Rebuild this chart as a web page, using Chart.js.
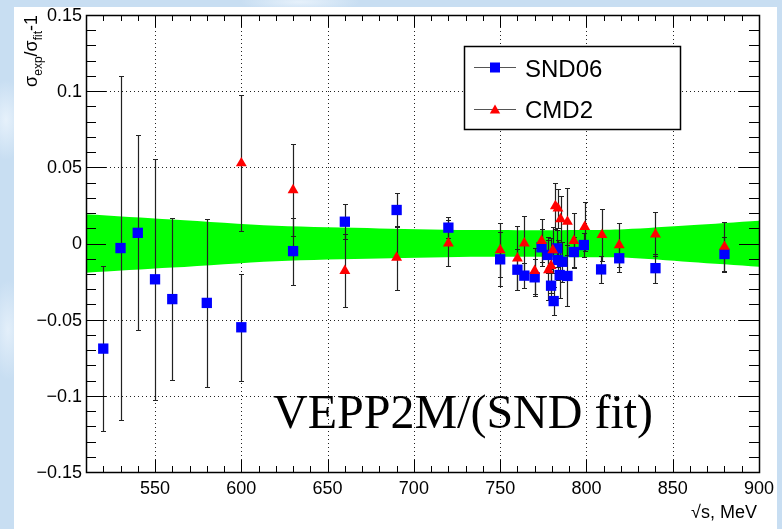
<!DOCTYPE html>
<html>
<head>
<meta charset="utf-8">
<script src="https://cdn.jsdelivr.net/npm/chart.js"></script>
<style>
  html, body { margin: 0; padding: 0; }
  body {
    width: 782px; height: 529px; overflow: hidden; position: relative;
    background: #c8def2;
    background-image:
      radial-gradient(ellipse 20px 40px at 6px 120px, #e6f1fb 0%, rgba(230,241,251,0) 100%),
      radial-gradient(ellipse 18px 50px at 8px 330px, #e3effa 0%, rgba(227,239,250,0) 100%),
      radial-gradient(ellipse 60px 10px at 300px 2px, #e6f1fb 0%, rgba(230,241,251,0) 100%);
  }
  #paper { position: absolute; left: 14px; top: 7px; width: 763px; height: 522px; background: #fff; }
  #chart { position: absolute; left: 0; top: 0; }
</style>
</head>
<body>
<div id="paper"></div>
<canvas id="chart" width="782" height="529"></canvas>
<script>
// SND06 points: energy (MeV), sigma_exp/sigma_fit - 1, error
var sndEnergy = [520, 530, 540, 550, 560, 580, 600, 630, 660, 690, 720, 750, 760, 764, 770, 774, 777.5, 779.5, 781, 783, 783.5, 784.5, 786, 789, 792.7, 798.5, 808.5, 819, 840, 880];
var sndRatio = [-0.069, -0.003, 0.007, -0.0235, -0.0365, -0.039, -0.055, -0.005, 0.0143, 0.022, 0.0104, -0.0104, -0.0172, -0.0211, -0.0222, -0.0025, -0.0075, -0.0277, -0.0378, -0.0032, -0.0108, -0.0207, -0.012, -0.0213, -0.0056, -0.001, -0.017, -0.0097, -0.0162, -0.0069];
var sndError = [0.054, 0.113, 0.064, 0.079, 0.053, 0.055, 0.035, 0.022, 0.0114, 0.0114, 0.007, 0.0177, 0.0136, 0.008, 0.012, 0.012, 0.012, 0.011, 0.009, 0.012, 0.013, 0.015, 0.013, 0.020, 0.0098, 0.0077, 0.0087, 0.0088, 0.0095, 0.0114];

// CMD2 points
var cmdEnergy = [600, 630, 660, 690, 720, 750, 760, 764, 770, 774, 778, 779.5, 780.5, 782, 783.5, 785, 789, 792.7, 799, 809, 819, 840, 880];
var cmdRatio = [0.0527, 0.0351, -0.018, -0.0093, 0.0001, -0.0043, -0.0097, 0.0001, -0.0179, 0.0018, -0.0174, -0.0146, -0.0043, 0.0246, 0.023, 0.016, 0.0143, 0.0018, 0.011, 0.0056, -0.001, 0.006, -0.0021];
var cmdError = [0.0445, 0.030, 0.024, 0.021, 0.015, 0.0176, 0.021, 0.018, 0.015, 0.014, 0.020, 0.018, 0.015, 0.015, 0.013, 0.015, 0.022, 0.018, 0.016, 0.0168, 0.0143, 0.0145, 0.0164];

// fit uncertainty band (green)
var bandEnergy = [510, 560, 620, 680, 740, 800, 822, 860, 900];
var bandUpper = [0.0192, 0.0157, 0.0116, 0.0099, 0.0088, 0.0089, 0.0094, 0.0120, 0.0150];
var bandLower = [-0.0192, -0.0158, -0.0116, -0.0098, -0.0087, -0.0090, -0.0092, -0.0121, -0.0152];

// axis ticks
var xTicks = [550, 600, 650, 700, 750, 800, 850, 900];
var xTickLabels = ['550', '600', '650', '700', '750', '800', '850', '900'];
var yTicks = [-0.15, -0.1, -0.05, 0, 0.05, 0.1, 0.15];
var yTickLabels = ['\u22120.15', '\u22120.1', '\u22120.05', '0', '0.05', '0.1', '0.15'];

function pts(xs, ys) {
  return xs.map(function(x, i) { return { x: x, y: ys[i] }; });
}

var sansFont = '"Liberation Sans", Arial, Helvetica, sans-serif';

function drawErrors(ctx, xs, ys, es, sx, sy) {
  ctx.beginPath();
  for (var i = 0; i < xs.length; i++) {
    var px = Math.round(sx.getPixelForValue(xs[i])) + 0.5;
    var top = Math.round(sy.getPixelForValue(ys[i] + es[i])) + 0.5;
    var bot = Math.round(sy.getPixelForValue(ys[i] - es[i])) + 0.5;
    ctx.moveTo(px, top); ctx.lineTo(px, bot);
    ctx.moveTo(px - 2.5, top); ctx.lineTo(px + 2.5, top);
    ctx.moveTo(px - 2.5, bot); ctx.lineTo(px + 2.5, bot);
  }
  ctx.stroke();
}

var rootStyle = {
  id: 'rootStyle',
  beforeDatasetsDraw: function(chart) {
    // dotted grid
    var ctx = chart.ctx, a = chart.chartArea, sx = chart.scales.x, sy = chart.scales.y;
    ctx.save();
    ctx.strokeStyle = '#222';
    ctx.lineWidth = 1;
    ctx.setLineDash([1, 3]);
    ctx.beginPath();
    xTicks.forEach(function(v) {
      var px = Math.round(sx.getPixelForValue(v)) + 0.5;
      ctx.moveTo(px, a.top); ctx.lineTo(px, a.bottom);
    });
    yTicks.forEach(function(v) {
      var py = Math.round(sy.getPixelForValue(v)) + 0.5;
      ctx.moveTo(a.left, py); ctx.lineTo(a.right, py);
    });
    ctx.stroke();
    ctx.restore();
  },
  beforeDatasetDraw: function(chart, args) {
    if (chart.data.datasets[args.index].label !== 'SND06') return;
    var ctx = chart.ctx, sx = chart.scales.x, sy = chart.scales.y;
    ctx.save();
    ctx.strokeStyle = '#222';
    ctx.lineWidth = 1.2;
    drawErrors(ctx, sndEnergy, sndRatio, sndError, sx, sy);
    drawErrors(ctx, cmdEnergy, cmdRatio, cmdError, sx, sy);
    ctx.restore();
  },
  afterDatasetsDraw: function(chart) {
    var ctx = chart.ctx, a = chart.chartArea, sx = chart.scales.x, sy = chart.scales.y;
    ctx.save();
    ctx.strokeStyle = '#000';
    ctx.lineWidth = 1;
    ctx.beginPath();
    // y ticks, inward on both sides
    for (var v = -15; v <= 15; v++) {
      var py = Math.round(sy.getPixelForValue(v / 100)) + 0.5;
      var len = (v % 5 === 0) ? 20 : 10;
      ctx.moveTo(a.left, py); ctx.lineTo(a.left + len, py);
      ctx.moveTo(a.right, py); ctx.lineTo(a.right - len, py);
    }
    // x ticks, inward on bottom and top
    for (var e = 510; e <= 900; e += 10) {
      var px = Math.round(sx.getPixelForValue(e)) + 0.5;
      var l2 = (e % 50 === 0) ? 12 : 6;
      ctx.moveTo(px, a.bottom); ctx.lineTo(px, a.bottom - l2);
      ctx.moveTo(px, a.top); ctx.lineTo(px, a.top + l2);
    }
    ctx.stroke();
    ctx.lineWidth = 1.5;
    ctx.strokeRect(Math.round(a.left) + 0.5, Math.round(a.top) + 0.5, Math.round(a.right - a.left), Math.round(a.bottom - a.top));
    ctx.restore();
  },
  afterDraw: function(chart) {
    var ctx = chart.ctx, a = chart.chartArea, sx = chart.scales.x, sy = chart.scales.y;
    ctx.save();
    ctx.fillStyle = '#000';
    ctx.font = '18px ' + sansFont;
    // y tick labels
    ctx.textAlign = 'right';
    ctx.textBaseline = 'middle';
    yTicks.forEach(function(v, i) {
      ctx.fillText(yTickLabels[i], a.left - 4, sy.getPixelForValue(v) + 1);
    });
    // x tick labels
    ctx.textAlign = 'center';
    ctx.textBaseline = 'top';
    xTicks.forEach(function(v, i) {
      ctx.fillText(xTickLabels[i], sx.getPixelForValue(v), a.bottom + 8);
    });
    // x title
    ctx.textAlign = 'right';
    ctx.textBaseline = 'alphabetic';
    ctx.fillText('\u221As, MeV', 757, 518);

    // y title, rotated, ends at the top of the axis
    var parts = [['\u03C3', 18, 0], ['exp', 12, 5], ['/', 18, 0], ['\u03C3', 18, 0], ['fit', 12, 5], ['-1', 18, 0]];
    var total = 0;
    parts.forEach(function(p) { ctx.font = p[1] + 'px ' + sansFont; total += ctx.measureText(p[0]).width; });
    ctx.translate(37, 15);
    ctx.rotate(-Math.PI / 2);
    ctx.textAlign = 'left';
    var cx = -total;
    parts.forEach(function(p) {
      ctx.font = p[1] + 'px ' + sansFont;
      ctx.fillText(p[0], cx, p[2]);
      cx += ctx.measureText(p[0]).width;
    });
    ctx.setTransform(1, 0, 0, 1, 0, 0);

    // legend box
    ctx.fillStyle = '#fff';
    ctx.fillRect(464, 46, 217, 84);
    ctx.strokeStyle = '#000';
    ctx.lineWidth = 1.5;
    ctx.strokeRect(464.5, 46.5, 216, 83);
    ctx.lineWidth = 1;
    ctx.strokeStyle = '#555';
    ctx.beginPath();
    ctx.moveTo(474, 67.5); ctx.lineTo(516, 67.5);
    ctx.moveTo(474, 109.5); ctx.lineTo(516, 109.5);
    ctx.stroke();
    ctx.fillStyle = '#0000ff';
    ctx.fillRect(490, 62.5, 10, 10);
    ctx.fillStyle = '#ff0000';
    ctx.beginPath();
    ctx.moveTo(495, 104.5); ctx.lineTo(500.2, 113.5); ctx.lineTo(489.8, 113.5);
    ctx.closePath(); ctx.fill();
    ctx.fillStyle = '#000';
    ctx.font = '24px ' + sansFont;
    ctx.textAlign = 'left';
    ctx.textBaseline = 'alphabetic';
    ctx.fillText('SND06', 525, 77);
    ctx.fillText('CMD2', 525, 117.5);

    // annotation
    ctx.font = '48px "Liberation Serif", "Times New Roman", serif';
    ctx.fillText('VEPP2M/(SND fit)', 273, 428);
    ctx.restore();
  }
};

var ctx = document.getElementById('chart').getContext('2d');
var chart = new Chart(ctx, {
  type: 'line',
  data: {
    datasets: [
      {
        label: 'band upper',
        data: pts(bandEnergy, bandUpper),
        borderWidth: 0,
        borderColor: 'rgba(0,0,0,0)',
        backgroundColor: '#00ff00',
        pointRadius: 0,
        fill: '+1',
        tension: 0.3,
        order: 2
      },
      {
        label: 'band lower',
        data: pts(bandEnergy, bandLower),
        borderWidth: 0,
        borderColor: 'rgba(0,0,0,0)',
        pointRadius: 0,
        fill: false,
        tension: 0.3,
        order: 2
      },
      {
        label: 'SND06',
        data: pts(sndEnergy, sndRatio),
        showLine: false,
        pointStyle: 'rect',
        pointRadius: 7.3,
        pointBorderWidth: 0,
        pointBackgroundColor: '#0000ff',
        pointBorderColor: '#0000ff',
        order: 1
      },
      {
        label: 'CMD2',
        data: pts(cmdEnergy, cmdRatio),
        showLine: false,
        pointStyle: 'triangle',
        pointRadius: 6.3,
        pointBorderWidth: 0,
        pointBackgroundColor: '#ff0000',
        pointBorderColor: '#ff0000',
        order: 0
      }
    ]
  },
  options: {
    responsive: false,
    animation: false,
    devicePixelRatio: 1,
    layout: { padding: { left: 86, top: 15, right: 23, bottom: 57 } },
    plugins: { legend: { display: false }, tooltip: { enabled: false } },
    scales: {
      x: { type: 'linear', min: 510, max: 900, display: false },
      y: { type: 'linear', min: -0.15, max: 0.15, display: false }
    }
  },
  plugins: [rootStyle]
});
</script>
</body>
</html>
